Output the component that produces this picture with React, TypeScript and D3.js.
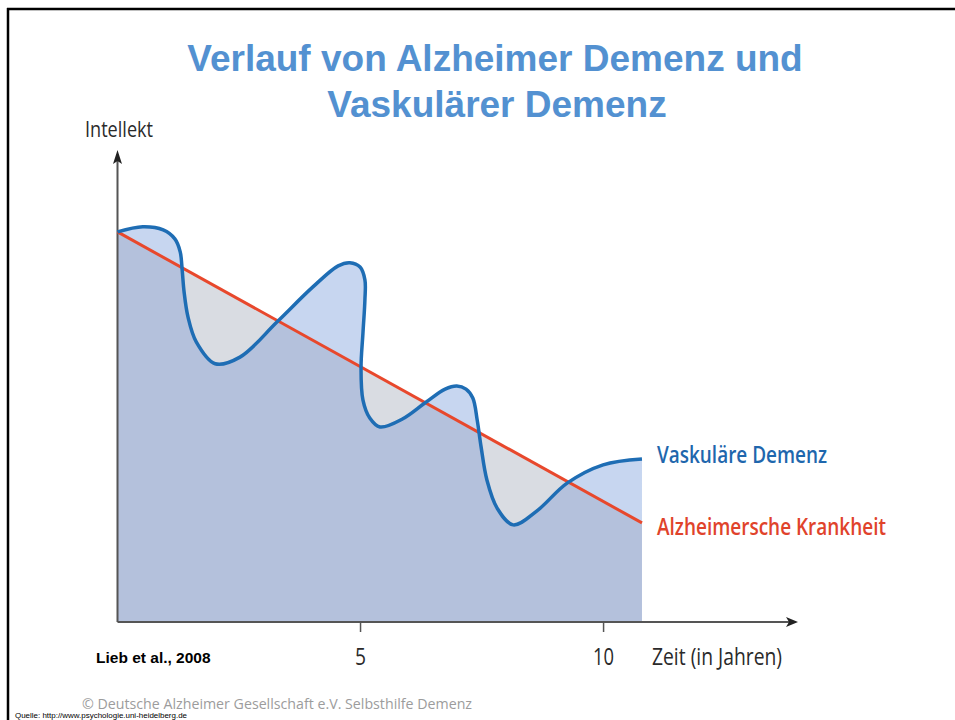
import * as d3 from "d3";

// Vaskuläre Demenz: stepwise course (years, intellect)
const vascYears = [0, 0.52, 0.94, 1.18, 1.29, 1.33, 1.37, 1.45, 1.62, 2.01, 2.52, 3.28, 4.02, 4.54, 4.78, 4.99, 5.09, 5.09, 5.05, 5.01, 5.05, 5.19, 5.4, 5.87, 6.33, 6.74, 6.98, 7.17, 7.31, 7.4, 7.48, 7.6, 7.81, 8.14, 8.63, 9.25, 9.99, 10.79];
const vascValues = [100, 101.3, 100.5, 98.2, 94.9, 90.3, 84.6, 78.2, 71.8, 66.2, 67.9, 76.9, 85.9, 91.3, 92.1, 91.0, 87.7, 82.6, 74.1, 65.1, 56.9, 52.3, 50.0, 52.1, 56.2, 59.7, 60.5, 59.7, 57.4, 51.8, 44.9, 36.4, 29.2, 24.9, 28.5, 35.6, 40.3, 41.8];

// Alzheimersche Krankheit: linear decline
const alzYears = [0, 10.79];
const alzValues = [100, 25.4];

const tickYears = [5, 10];

const W = 955, H = 720;
const LABEL_FONT = "'Open Sans', 'Noto Sans', sans-serif";

export default function App() {
  const x = d3.scaleLinear().domain([0, 14]).range([117.5, 798]);
  const y = d3.scaleLinear().domain([0, 121]).range([622, 150]);

  const vasc = vascYears.map((t, i) => [t, vascValues[i]] as [number, number]);
  const alz = alzYears.map((t, i) => [t, alzValues[i]] as [number, number]);

  const line = d3.line<[number, number]>()
    .x((d) => x(d[0]))
    .y((d) => y(d[1]))
    .curve(d3.curveCatmullRom.alpha(0.5));
  const straight = d3.line<[number, number]>().x((d) => x(d[0])).y((d) => y(d[1]));

  const close = (pts: [number, number][]) =>
    `L${x(pts[pts.length - 1][0])},${y(0)}L${x(pts[0][0])},${y(0)}Z`;

  const vascLine = line(vasc)!;
  const alzLine = straight(alz)!;
  const vascArea = vascLine + close(vasc);
  const alzArea = alzLine + close(alz);

  const x0 = x(0), yAxisTop = y(121), xAxisEnd = x(14), base = y(0);

  return (
    <svg width={W} height={H} style={{ position: "absolute", left: 0, top: 0, background: "#fff" }}>
      <defs>
        <clipPath id="alzClip">
          <path d={alzArea} />
        </clipPath>
      </defs>

      {/* slide frame */}
      <line x1={7} x2={W} y1={9} y2={9} stroke="#000" strokeWidth={2.5} />
      <line x1={8} x2={8} y1={8} y2={H} stroke="#000" strokeWidth={2.5} />

      {/* title */}
      <g fontFamily="'Liberation Sans', Arial, sans-serif" fontWeight="bold" fontSize={37} fill="#5391d1" textAnchor="middle">
        <text x={495} y={71}>Verlauf von Alzheimer Demenz und</text>
        <text x={497} y={117}>Vaskulärer Demenz</text>
      </g>

      {/* areas */}
      <path d={alzArea} fill="#d9dce2" />
      <path d={vascArea} fill="#c7d6f0" />
      <path d={vascArea} fill="#b4c1dc" clipPath="url(#alzClip)" />

      {/* axes */}
      <g stroke="#555" strokeWidth={2} fill="none">
        <line x1={x0} x2={x0} y1={base} y2={yAxisTop + 8} />
        <line x1={x0} x2={xAxisEnd - 8} y1={base} y2={base} />
        {tickYears.map((t) => (
          <line key={t} x1={x(t)} x2={x(t)} y1={base} y2={base + 10} strokeWidth={1.5} />
        ))}
      </g>
      <path d={`M${x0},${yAxisTop}L${x0 + 4.5},${yAxisTop + 14}L${x0},${yAxisTop + 11}L${x0 - 4.5},${yAxisTop + 14}Z`} fill="#222" />
      <path d={`M${xAxisEnd},${base}L${xAxisEnd - 12},${base + 5}L${xAxisEnd - 9},${base}L${xAxisEnd - 12},${base - 5}Z`} fill="#222" />

      {/* lines */}
      <path d={alzLine} fill="none" stroke="#e8482c" strokeWidth={3} />
      <path d={vascLine} fill="none" stroke="#1e6db4" strokeWidth={3.5} />

      {/* axis labels */}
      <g fontFamily={LABEL_FONT} fill="#2a2a2a">
        <text x={85} y={137} fontSize={21} textLength={68} lengthAdjust="spacingAndGlyphs">Intellekt</text>
        {tickYears.map((t) => (
          <text key={t} x={x(t)} y={665} fontSize={23} textAnchor="middle"
            textLength={t >= 10 ? 21 : 11} lengthAdjust="spacingAndGlyphs">{t}</text>
        ))}
        <text x={652} y={665} fontSize={23} textLength={130} lengthAdjust="spacingAndGlyphs">Zeit (in Jahren)</text>
      </g>

      {/* series labels */}
      <g fontFamily={LABEL_FONT} fontSize={24} fontWeight={600}>
        <text x={657} y={463} fill="#1f67ad" textLength={170} lengthAdjust="spacingAndGlyphs">Vaskuläre Demenz</text>
        <text x={657} y={535} fill="#e0432b" textLength={229} lengthAdjust="spacingAndGlyphs">Alzheimersche Krankheit</text>
      </g>

      {/* footnotes */}
      <text x={96} y={663} fontFamily="'Liberation Sans', Arial, sans-serif" fontWeight="bold" fontSize={15.5} fill="#000">Lieb et al., 2008</text>
      <text x={82} y={708.5} fontFamily={LABEL_FONT} fontSize={14} fill="#9c9c9c" textLength={390} lengthAdjust="spacingAndGlyphs">© Deutsche Alzheimer Gesellschaft e.V. Selbsthilfe Demenz</text>
      <text x={15} y={718} fontFamily="'Liberation Sans', Arial, sans-serif" fontSize={7.5} fill="#000" textLength={172} lengthAdjust="spacingAndGlyphs">Quelle: http://www.psychologie.uni-heidelberg.de</text>
    </svg>
  );
}
